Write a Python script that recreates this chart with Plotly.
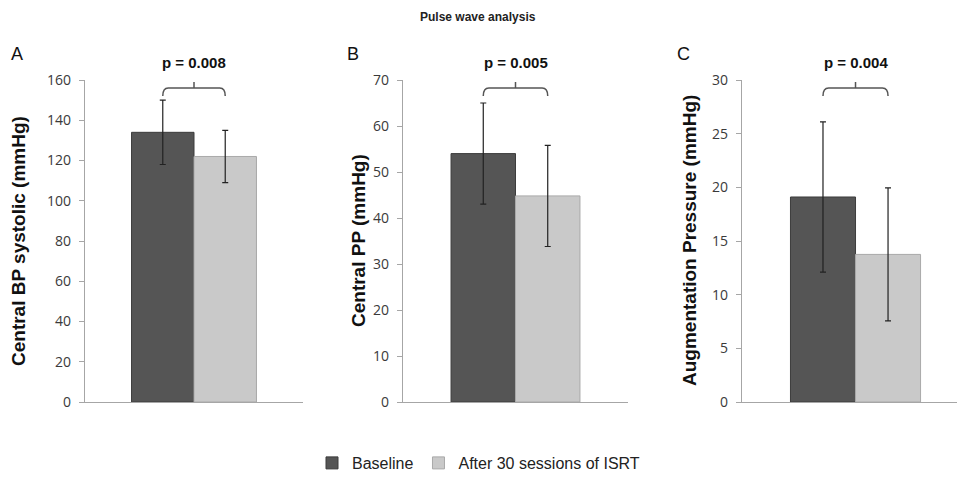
import plotly.graph_objects as go

# ---- data ----
panels = ["A", "B", "C"]
ytitles = ["Central BP systolic (mmHg)", "Central PP (mmHg)", "Augmentation Pressure (mmHg)"]
series_names = ["Baseline", "After 30 sessions of ISRT"]
baseline = [134, 54, 19.1]
baseline_err = [16, 11, 7]
after = [122, 44.8, 13.75]
after_err = [13, 11, 6.2]
pvalues = ["p = 0.008", "p = 0.005", "p = 0.004"]
ymax = [160, 70, 30]
dticks = [20, 10, 5]
category = ["Pulse wave"]

W, H = 957, 490
BARGAP = 0.427
dark = "#555555"
light = "#c9c9c9"
axis_col = "#a6a6a6"

# layout geometry (pixels)
x_dom_px = [(85, 303), (403, 628), (742, 957)]
x_ranges = [[-0.5, 0.5], [-0.5, 0.5], [-0.5, 0.447]]
y_top_px, y_bot_px = 80, 402

fig = go.Figure()
for i in range(3):
    xa = "x" if i == 0 else f"x{i+1}"
    ya = "y" if i == 0 else f"y{i+1}"
    fig.add_trace(go.Bar(
        x=category, y=[baseline[i]], name=series_names[0], xaxis=xa, yaxis=ya,
        marker=dict(color=dark, line=dict(color="#3c3c3c", width=1)),
        error_y=dict(type="data", array=[baseline_err[i]], color="#222222", thickness=1.2, width=3),
        showlegend=(i == 0), legendgroup="b"))
    fig.add_trace(go.Bar(
        x=category, y=[after[i]], name=series_names[1], xaxis=xa, yaxis=ya,
        marker=dict(color=light, line=dict(color="#a9a9a9", width=1)),
        error_y=dict(type="data", array=[after_err[i]], color="#222222", thickness=1.2, width=3),
        showlegend=(i == 0), legendgroup="a"))

def py(px):
    return (H - px) / H

layout = dict(
    width=W, height=H, margin=dict(l=0, r=0, t=0, b=0, autoexpand=False),
    paper_bgcolor="white", plot_bgcolor="white",
    barmode="group", bargap=BARGAP, bargroupgap=0,
    font=dict(family="Liberation Sans, Arial", color="#222222"),
    legend=dict(orientation="h", x=0.5, xanchor="center", y=py(463), yanchor="middle",
                font=dict(size=16, family="Liberation Sans, Arial", color="#222222"),
                itemwidth=30, tracegroupgap=0),
)
annotations = []
shapes = []
half = (1 - BARGAP) / 4  # offset of each bar centre from the category centre
for i in range(3):
    sfx = "" if i == 0 else str(i + 1)
    x0, x1 = x_dom_px[i]
    layout[f"xaxis{sfx}"] = dict(
        domain=[x0 / W, x1 / W], range=x_ranges[i], showticklabels=False,
        showline=True, linecolor=axis_col, linewidth=1.2, ticks="", showgrid=False,
        zeroline=False, fixedrange=True, anchor=f"y{sfx}", automargin=False)
    layout[f"yaxis{sfx}"] = dict(
        domain=[py(y_bot_px), py(y_top_px)], range=[0, ymax[i]], dtick=dticks[i],
        showline=True, linecolor=axis_col, linewidth=1.2, ticks="outside", ticklen=5,
        tickcolor=axis_col, tickwidth=1.2, showgrid=False, zeroline=False,
        tickfont=dict(family="Open Sans", size=14, color="#3a3a3a"),
        ticklabelstandoff=5, anchor=f"x{sfx}", automargin=False)
    # axis title
    annotations.append(dict(
        text=ytitles[i], textangle=-90, xref="paper", yref="paper",
        x=[18, 358, 689][i] / W, y=py((y_top_px + y_bot_px) / 2),
        xanchor="center", yanchor="middle", showarrow=False,
        font=dict(size=19, family="Liberation Sans, Arial", color="#111111", weight="bold")))
    # panel letter
    annotations.append(dict(
        text=panels[i], xref="paper", yref="paper",
        x=[17, 353, 683][i] / W, y=py(54), xanchor="center", yanchor="middle",
        showarrow=False, font=dict(size=18, family="Liberation Sans, Arial", color="#111111")))
    # p value
    annotations.append(dict(
        text=pvalues[i], xref=f"x{sfx}", yref="paper", x=0, y=py(63),
        xanchor="center", yanchor="middle", showarrow=False,
        font=dict(size=15, family="Liberation Sans, Arial", color="#111111", weight="bold")))
    # bracket
    ytop, ylow, ytick = py(88), py(96), py(82)
    r = 0.025
    path = (f"M {-half},{ylow} Q {-half},{ytop} {-half + r},{ytop} "
            f"L {half - r},{ytop} Q {half},{ytop} {half},{ylow} "
            f"M 0,{ytop} L 0,{ytick}")
    shapes.append(dict(type="path", path=path, xref=f"x{sfx}", yref="paper",
                       line=dict(color="#555555", width=1.5)))

annotations.append(dict(
    text="Pulse wave analysis", xref="paper", yref="paper", x=478 / W, y=py(17),
    xanchor="center", yanchor="middle", showarrow=False,
    font=dict(size=12, family="Liberation Sans, Arial", color="#222222", weight="bold")))

layout["annotations"] = annotations
layout["shapes"] = shapes
fig.update_layout(**layout)
fig.write_html("out.html")
